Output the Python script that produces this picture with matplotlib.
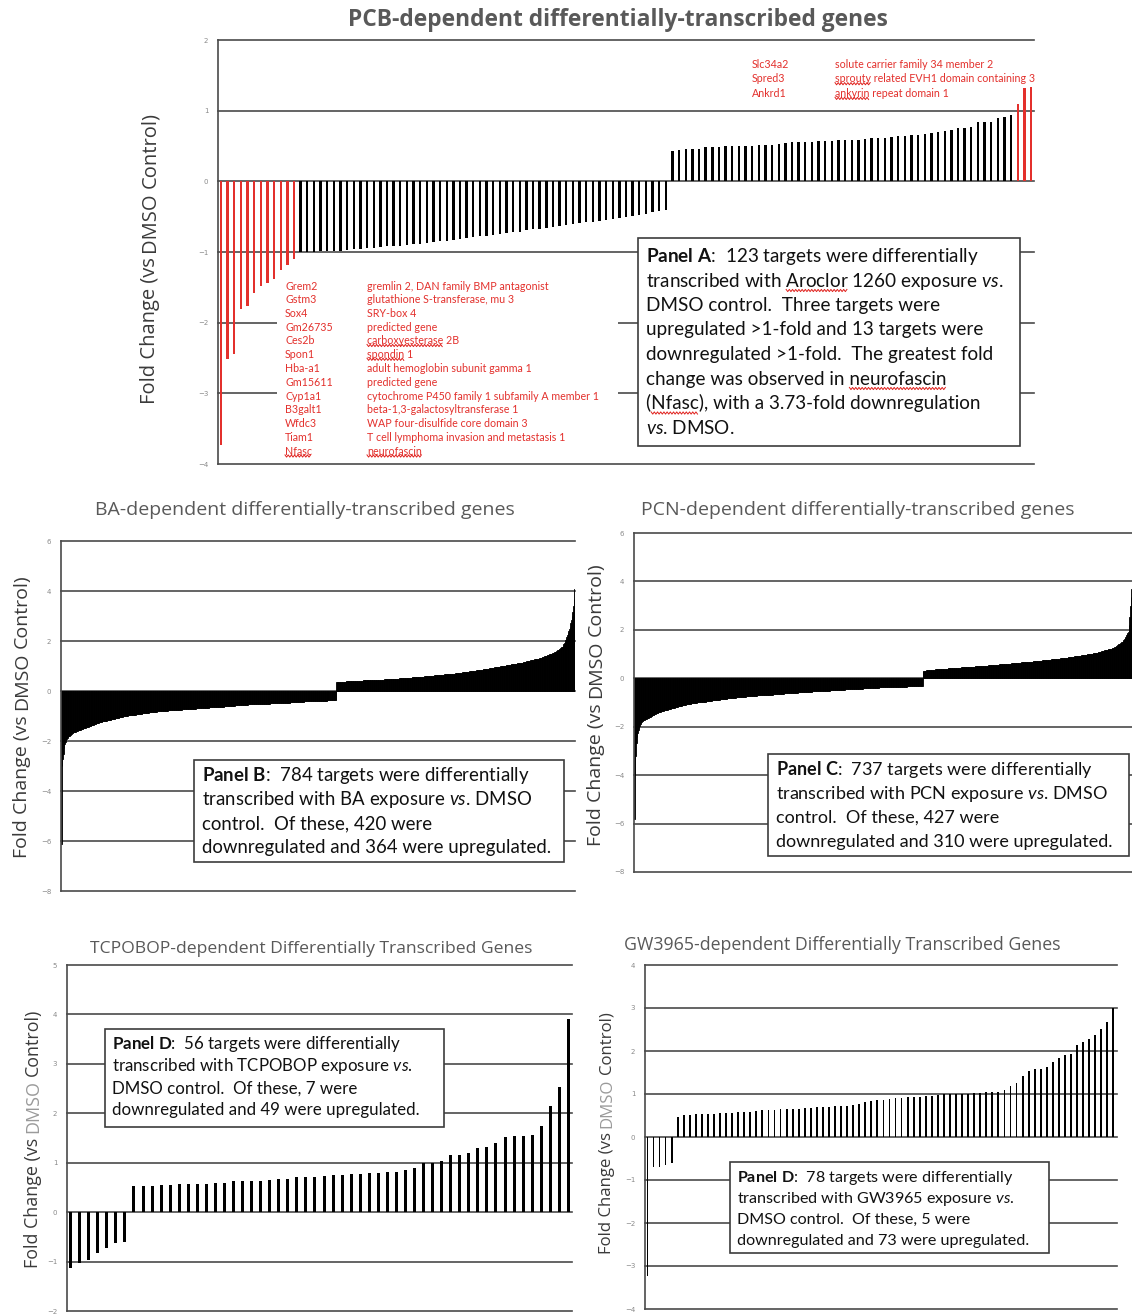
import numpy as np
import matplotlib
matplotlib.use('Agg')
import matplotlib.pyplot as plt
from matplotlib.patches import Rectangle
from matplotlib.lines import Line2D

W, H = 1132, 1314

plt.rcParams['mathtext.fontset'] = 'custom'
plt.rcParams['mathtext.rm'] = 'Lato'
plt.rcParams['mathtext.bf'] = 'Lato:bold'
plt.rcParams['mathtext.it'] = 'Lato:italic'

# ---------------- data (fold change, sorted as in the original figure) ----------------
pcb_fold = [
    -3.73, -2.51, -2.44, -1.80, -1.76, -1.58, -1.48, -1.44, -1.38, -1.26, -1.19, -1.10,
    -1.00, -1.00, -1.00, -0.99, -0.99, -0.98, -0.98, -0.97, -0.96, -0.96,
    -0.95, -0.94, -0.93, -0.92, -0.92, -0.91, -0.90, -0.89, -0.88, -0.87,
    -0.86, -0.85, -0.84, -0.83, -0.82, -0.80, -0.79, -0.78, -0.77, -0.76,
    -0.74, -0.73, -0.72, -0.71, -0.69, -0.68, -0.67, -0.66, -0.64, -0.63,
    -0.62, -0.61, -0.59, -0.58, -0.57, -0.56, -0.55, -0.53, -0.52, -0.51,
    -0.49, -0.48, -0.46, -0.44, -0.42, -0.40,
    0.43, 0.45, 0.46, 0.46, 0.46, 0.48, 0.48, 0.48, 0.50, 0.50,
    0.50, 0.50, 0.50, 0.51, 0.51, 0.52, 0.53, 0.54, 0.55, 0.55,
    0.56, 0.56, 0.57, 0.57, 0.57, 0.58, 0.59, 0.59, 0.59, 0.60,
    0.61, 0.62, 0.62, 0.63, 0.64, 0.64, 0.65, 0.66, 0.67, 0.68,
    0.70, 0.71, 0.73, 0.75, 0.76, 0.77, 0.84, 0.84, 0.84, 0.89, 0.91, 0.94,
    1.10, 1.32, 1.33,
]

ba_down = [
    -6.10, -3.00, -2.72, -2.50, -2.28, -2.10, -2.02, -1.95, -1.90, -1.86, -1.82, -1.80, -1.78, -1.76, -1.74, -1.72, -1.70, -1.69, -1.66, -1.65,
    -1.64, -1.63, -1.62, -1.61, -1.60, -1.58, -1.57, -1.56, -1.55, -1.54, -1.53, -1.52, -1.51, -1.50, -1.49, -1.48, -1.47, -1.46, -1.45, -1.44,
    -1.43, -1.42, -1.41, -1.40, -1.39, -1.38, -1.37, -1.36, -1.35, -1.34, -1.33, -1.32, -1.31, -1.30, -1.29, -1.28, -1.26, -1.26, -1.25, -1.24,
    -1.23, -1.23, -1.22, -1.21, -1.21, -1.20, -1.19, -1.19, -1.18, -1.18, -1.17, -1.16, -1.16, -1.15, -1.15, -1.14, -1.14, -1.13, -1.13, -1.12,
    -1.11, -1.10, -1.10, -1.09, -1.08, -1.08, -1.07, -1.06, -1.06, -1.05, -1.04, -1.04, -1.02, -1.02, -1.01, -1.01, -1.00, -1.00, -0.99, -0.99,
    -0.98, -0.98, -0.97, -0.97, -0.97, -0.96, -0.96, -0.96, -0.95, -0.95, -0.95, -0.94, -0.94, -0.94, -0.93, -0.93, -0.93, -0.92, -0.92, -0.91,
    -0.91, -0.91, -0.90, -0.90, -0.89, -0.89, -0.89, -0.88, -0.88, -0.87, -0.87, -0.87, -0.86, -0.86, -0.85, -0.85, -0.85, -0.84, -0.84, -0.84,
    -0.83, -0.83, -0.83, -0.82, -0.82, -0.82, -0.81, -0.81, -0.81, -0.81, -0.80, -0.80, -0.80, -0.80, -0.79, -0.79, -0.79, -0.79, -0.78, -0.78,
    -0.78, -0.78, -0.78, -0.77, -0.77, -0.77, -0.77, -0.77, -0.76, -0.76, -0.76, -0.76, -0.76, -0.75, -0.75, -0.75, -0.75, -0.75, -0.74, -0.74,
    -0.74, -0.74, -0.74, -0.74, -0.73, -0.73, -0.73, -0.73, -0.73, -0.73, -0.72, -0.72, -0.72, -0.72, -0.72, -0.71, -0.71, -0.71, -0.71, -0.71,
    -0.71, -0.70, -0.70, -0.70, -0.70, -0.70, -0.69, -0.69, -0.69, -0.69, -0.69, -0.68, -0.68, -0.68, -0.68, -0.68, -0.67, -0.67, -0.67, -0.67,
    -0.67, -0.66, -0.66, -0.66, -0.66, -0.66, -0.65, -0.65, -0.65, -0.65, -0.65, -0.65, -0.64, -0.64, -0.64, -0.64, -0.64, -0.64, -0.63, -0.63,
    -0.63, -0.63, -0.63, -0.63, -0.63, -0.62, -0.62, -0.62, -0.62, -0.61, -0.61, -0.61, -0.61, -0.60, -0.60, -0.60, -0.60, -0.59, -0.59, -0.59,
    -0.59, -0.58, -0.58, -0.58, -0.58, -0.57, -0.57, -0.57, -0.57, -0.56, -0.56, -0.56, -0.56, -0.55, -0.55, -0.55, -0.55, -0.55, -0.54, -0.54,
    -0.54, -0.54, -0.54, -0.54, -0.54, -0.53, -0.53, -0.53, -0.53, -0.53, -0.53, -0.53, -0.53, -0.53, -0.53, -0.53, -0.52, -0.52, -0.52, -0.52,
    -0.52, -0.52, -0.52, -0.52, -0.51, -0.51, -0.51, -0.51, -0.51, -0.51, -0.51, -0.50, -0.50, -0.50, -0.50, -0.50, -0.50, -0.50, -0.50, -0.49,
    -0.49, -0.49, -0.49, -0.49, -0.49, -0.49, -0.49, -0.48, -0.48, -0.48, -0.48, -0.48, -0.48, -0.48, -0.48, -0.48, -0.47, -0.47, -0.47, -0.47,
    -0.47, -0.47, -0.47, -0.47, -0.47, -0.46, -0.46, -0.46, -0.46, -0.46, -0.45, -0.45, -0.45, -0.45, -0.45, -0.44, -0.44, -0.44, -0.44, -0.44,
    -0.43, -0.43, -0.43, -0.43, -0.43, -0.42, -0.42, -0.42, -0.42, -0.42, -0.42, -0.41, -0.41, -0.41, -0.41, -0.41, -0.41, -0.40, -0.40, -0.40,
    -0.40, -0.40, -0.40, -0.40, -0.40, -0.40, -0.39, -0.39, -0.39, -0.39, -0.39, -0.39, -0.39, -0.39, -0.39, -0.39, -0.39, -0.39, -0.38, -0.38,
    -0.38, -0.38, -0.38, -0.38, -0.38, -0.38, -0.37, -0.37, -0.37, -0.37, -0.37, -0.37, -0.37, -0.37, -0.36, -0.36, -0.36, -0.36, -0.36, -0.36,
]

ba_up = [
    0.37, 0.37, 0.37, 0.37, 0.37, 0.37, 0.38, 0.38, 0.38, 0.38, 0.38, 0.38, 0.38, 0.38, 0.39, 0.39, 0.39, 0.39, 0.39, 0.39,
    0.39, 0.39, 0.40, 0.40, 0.40, 0.40, 0.40, 0.40, 0.40, 0.41, 0.41, 0.41, 0.41, 0.41, 0.42, 0.42, 0.42, 0.42, 0.42, 0.42,
    0.43, 0.43, 0.43, 0.43, 0.43, 0.43, 0.43, 0.44, 0.44, 0.44, 0.44, 0.44, 0.44, 0.44, 0.44, 0.45, 0.45, 0.45, 0.45, 0.45,
    0.45, 0.45, 0.45, 0.45, 0.46, 0.46, 0.46, 0.46, 0.46, 0.46, 0.46, 0.46, 0.46, 0.47, 0.47, 0.47, 0.47, 0.47, 0.47, 0.47,
    0.47, 0.48, 0.48, 0.48, 0.48, 0.48, 0.49, 0.49, 0.49, 0.49, 0.49, 0.50, 0.50, 0.50, 0.50, 0.50, 0.51, 0.51, 0.51, 0.51,
    0.51, 0.52, 0.52, 0.52, 0.52, 0.52, 0.53, 0.53, 0.53, 0.53, 0.54, 0.54, 0.54, 0.54, 0.54, 0.55, 0.55, 0.55, 0.55, 0.55,
    0.55, 0.56, 0.56, 0.56, 0.56, 0.56, 0.57, 0.57, 0.57, 0.57, 0.58, 0.58, 0.58, 0.58, 0.59, 0.59, 0.59, 0.59, 0.60, 0.60,
    0.60, 0.60, 0.61, 0.61, 0.61, 0.61, 0.62, 0.62, 0.62, 0.63, 0.63, 0.63, 0.63, 0.64, 0.64, 0.64, 0.65, 0.65, 0.65, 0.65,
    0.66, 0.66, 0.66, 0.66, 0.67, 0.67, 0.67, 0.67, 0.68, 0.68, 0.68, 0.68, 0.69, 0.69, 0.69, 0.69, 0.69, 0.70, 0.70, 0.70,
    0.70, 0.71, 0.71, 0.71, 0.72, 0.72, 0.73, 0.73, 0.73, 0.74, 0.74, 0.74, 0.75, 0.75, 0.76, 0.76, 0.76, 0.77, 0.77, 0.77,
    0.78, 0.78, 0.78, 0.79, 0.79, 0.80, 0.80, 0.80, 0.81, 0.81, 0.82, 0.82, 0.82, 0.83, 0.83, 0.84, 0.84, 0.84, 0.85, 0.85,
    0.86, 0.86, 0.86, 0.87, 0.87, 0.88, 0.88, 0.88, 0.89, 0.89, 0.90, 0.90, 0.90, 0.91, 0.91, 0.92, 0.92, 0.93, 0.93, 0.94,
    0.94, 0.95, 0.95, 0.95, 0.96, 0.96, 0.97, 0.97, 0.98, 0.98, 0.99, 0.99, 1.00, 1.00, 1.01, 1.01, 1.02, 1.02, 1.03, 1.03,
    1.04, 1.04, 1.05, 1.05, 1.06, 1.06, 1.07, 1.07, 1.08, 1.08, 1.09, 1.09, 1.10, 1.10, 1.10, 1.11, 1.11, 1.12, 1.12, 1.12,
    1.13, 1.13, 1.13, 1.14, 1.15, 1.15, 1.16, 1.17, 1.17, 1.18, 1.19, 1.19, 1.20, 1.21, 1.21, 1.22, 1.23, 1.23, 1.24, 1.25,
    1.25, 1.26, 1.27, 1.27, 1.28, 1.28, 1.29, 1.29, 1.30, 1.31, 1.32, 1.33, 1.34, 1.35, 1.36, 1.37, 1.38, 1.39, 1.40, 1.41,
    1.42, 1.43, 1.44, 1.45, 1.46, 1.47, 1.48, 1.49, 1.50, 1.51, 1.53, 1.54, 1.55, 1.57, 1.58, 1.60, 1.62, 1.64, 1.66, 1.68,
    1.70, 1.72, 1.74, 1.76, 1.77, 1.82, 1.87, 1.92, 1.97, 2.03, 2.10, 2.18, 2.25, 2.33, 2.41, 2.49, 2.57, 2.72, 2.86, 3.01,
    3.16, 3.40, 3.70, 4.10,
]

pcn_down = [
    -5.80, -4.00, -3.20, -2.66, -2.42, -2.25, -2.12, -2.04, -1.97, -1.90, -1.85, -1.81, -1.78, -1.76, -1.74, -1.72, -1.70, -1.69, -1.67, -1.66,
    -1.65, -1.63, -1.61, -1.60, -1.58, -1.56, -1.55, -1.53, -1.51, -1.50, -1.48, -1.47, -1.45, -1.44, -1.43, -1.42, -1.41, -1.40, -1.39, -1.38,
    -1.37, -1.36, -1.35, -1.34, -1.33, -1.33, -1.32, -1.31, -1.30, -1.29, -1.28, -1.27, -1.27, -1.26, -1.25, -1.24, -1.23, -1.22, -1.22, -1.21,
    -1.20, -1.19, -1.19, -1.18, -1.17, -1.16, -1.16, -1.15, -1.14, -1.14, -1.13, -1.12, -1.12, -1.11, -1.10, -1.10, -1.09, -1.08, -1.08, -1.07,
    -1.07, -1.06, -1.06, -1.05, -1.05, -1.04, -1.04, -1.03, -1.03, -1.02, -1.02, -1.01, -1.01, -1.00, -1.00, -1.00, -0.99, -0.99, -0.99, -0.98,
    -0.98, -0.98, -0.97, -0.97, -0.96, -0.96, -0.96, -0.95, -0.95, -0.94, -0.94, -0.93, -0.93, -0.92, -0.92, -0.91, -0.91, -0.91, -0.90, -0.90,
    -0.90, -0.89, -0.89, -0.89, -0.88, -0.88, -0.88, -0.87, -0.87, -0.87, -0.86, -0.86, -0.86, -0.85, -0.85, -0.84, -0.84, -0.84, -0.83, -0.83,
    -0.83, -0.82, -0.82, -0.82, -0.81, -0.81, -0.81, -0.80, -0.80, -0.80, -0.80, -0.79, -0.79, -0.79, -0.79, -0.78, -0.78, -0.78, -0.78, -0.77,
    -0.77, -0.77, -0.76, -0.76, -0.76, -0.76, -0.75, -0.75, -0.75, -0.75, -0.74, -0.74, -0.74, -0.73, -0.73, -0.73, -0.73, -0.72, -0.72, -0.72,
    -0.72, -0.72, -0.71, -0.71, -0.71, -0.71, -0.71, -0.70, -0.70, -0.70, -0.70, -0.70, -0.69, -0.69, -0.69, -0.69, -0.68, -0.68, -0.68, -0.68,
    -0.68, -0.67, -0.67, -0.67, -0.67, -0.66, -0.66, -0.66, -0.66, -0.65, -0.65, -0.65, -0.65, -0.64, -0.64, -0.64, -0.64, -0.63, -0.63, -0.63,
    -0.63, -0.63, -0.62, -0.62, -0.62, -0.62, -0.61, -0.61, -0.61, -0.61, -0.61, -0.60, -0.60, -0.60, -0.60, -0.60, -0.59, -0.59, -0.59, -0.59,
    -0.59, -0.59, -0.58, -0.58, -0.58, -0.58, -0.58, -0.57, -0.57, -0.57, -0.57, -0.57, -0.56, -0.56, -0.56, -0.56, -0.56, -0.56, -0.55, -0.55,
    -0.55, -0.55, -0.55, -0.55, -0.54, -0.54, -0.54, -0.54, -0.54, -0.53, -0.53, -0.53, -0.53, -0.53, -0.53, -0.52, -0.52, -0.52, -0.52, -0.52,
    -0.52, -0.52, -0.51, -0.51, -0.51, -0.51, -0.51, -0.51, -0.51, -0.51, -0.50, -0.50, -0.50, -0.50, -0.50, -0.49, -0.49, -0.49, -0.49, -0.49,
    -0.49, -0.48, -0.48, -0.48, -0.48, -0.48, -0.47, -0.47, -0.47, -0.47, -0.47, -0.47, -0.46, -0.46, -0.46, -0.46, -0.46, -0.45, -0.45, -0.45,
    -0.45, -0.45, -0.45, -0.44, -0.44, -0.44, -0.44, -0.44, -0.44, -0.44, -0.43, -0.43, -0.43, -0.43, -0.43, -0.43, -0.43, -0.43, -0.43, -0.42,
    -0.42, -0.42, -0.42, -0.42, -0.42, -0.41, -0.41, -0.41, -0.41, -0.41, -0.41, -0.40, -0.40, -0.40, -0.40, -0.40, -0.40, -0.39, -0.39, -0.39,
    -0.39, -0.39, -0.39, -0.38, -0.38, -0.38, -0.38, -0.38, -0.38, -0.37, -0.37, -0.37, -0.37, -0.37, -0.37, -0.37, -0.37, -0.36, -0.36, -0.36,
    -0.36, -0.36, -0.36, -0.36, -0.36, -0.36, -0.36, -0.36, -0.35, -0.35, -0.35, -0.35, -0.35, -0.35, -0.35, -0.35, -0.34, -0.34, -0.34, -0.34,
    -0.34, -0.34, -0.34, -0.34, -0.33, -0.33, -0.33, -0.33, -0.33, -0.33, -0.33, -0.33, -0.32, -0.32, -0.32, -0.32, -0.32, -0.32, -0.32, -0.32,
    -0.31, -0.31, -0.31, -0.31, -0.31, -0.31, -0.31,
]

pcn_up = [
    0.31, 0.31, 0.32, 0.32, 0.32, 0.33, 0.33, 0.33, 0.34, 0.34, 0.34, 0.35, 0.35, 0.35, 0.35, 0.36, 0.36, 0.36, 0.36, 0.37,
    0.37, 0.37, 0.37, 0.37, 0.38, 0.38, 0.38, 0.38, 0.39, 0.39, 0.39, 0.39, 0.40, 0.40, 0.40, 0.40, 0.40, 0.41, 0.41, 0.41,
    0.41, 0.41, 0.42, 0.42, 0.42, 0.42, 0.42, 0.43, 0.43, 0.43, 0.43, 0.43, 0.44, 0.44, 0.44, 0.44, 0.44, 0.45, 0.45, 0.45,
    0.45, 0.45, 0.46, 0.46, 0.46, 0.46, 0.46, 0.47, 0.47, 0.47, 0.47, 0.47, 0.48, 0.48, 0.48, 0.48, 0.48, 0.49, 0.49, 0.49,
    0.49, 0.49, 0.50, 0.50, 0.50, 0.50, 0.50, 0.51, 0.51, 0.51, 0.51, 0.51, 0.52, 0.52, 0.52, 0.52, 0.52, 0.53, 0.53, 0.53,
    0.53, 0.53, 0.54, 0.54, 0.54, 0.54, 0.54, 0.55, 0.55, 0.55, 0.56, 0.56, 0.56, 0.57, 0.57, 0.57, 0.57, 0.58, 0.58, 0.58,
    0.58, 0.59, 0.59, 0.59, 0.60, 0.60, 0.60, 0.60, 0.61, 0.61, 0.61, 0.62, 0.62, 0.62, 0.62, 0.63, 0.63, 0.63, 0.63, 0.64,
    0.64, 0.64, 0.65, 0.65, 0.65, 0.65, 0.66, 0.66, 0.66, 0.66, 0.67, 0.67, 0.67, 0.67, 0.67, 0.68, 0.68, 0.68, 0.68, 0.68,
    0.69, 0.69, 0.69, 0.70, 0.70, 0.70, 0.71, 0.71, 0.71, 0.71, 0.72, 0.72, 0.72, 0.73, 0.73, 0.73, 0.73, 0.74, 0.74, 0.74,
    0.75, 0.75, 0.75, 0.76, 0.76, 0.76, 0.76, 0.77, 0.77, 0.77, 0.78, 0.78, 0.78, 0.78, 0.79, 0.79, 0.79, 0.80, 0.80, 0.80,
    0.80, 0.81, 0.81, 0.81, 0.82, 0.82, 0.82, 0.82, 0.82, 0.83, 0.83, 0.84, 0.84, 0.85, 0.85, 0.86, 0.86, 0.86, 0.87, 0.87,
    0.88, 0.88, 0.89, 0.89, 0.90, 0.90, 0.91, 0.91, 0.92, 0.92, 0.93, 0.93, 0.93, 0.94, 0.94, 0.95, 0.95, 0.96, 0.96, 0.97,
    0.97, 0.98, 0.98, 0.99, 0.99, 1.00, 1.00, 1.00, 1.01, 1.01, 1.02, 1.02, 1.03, 1.03, 1.04, 1.04, 1.05, 1.05, 1.06, 1.07,
    1.08, 1.09, 1.09, 1.10, 1.11, 1.12, 1.13, 1.13, 1.14, 1.15, 1.16, 1.17, 1.17, 1.18, 1.19, 1.20, 1.21, 1.21, 1.22, 1.23,
    1.24, 1.25, 1.26, 1.27, 1.29, 1.30, 1.32, 1.34, 1.36, 1.38, 1.40, 1.42, 1.44, 1.46, 1.48, 1.51, 1.53, 1.57, 1.62, 1.67,
    1.72, 1.77, 1.82, 1.87, 1.93, 2.20, 2.55, 3.00, 3.35, 3.70,
]

tcpobop_fold = [
    -1.12, -1.02, -0.97, -0.82, -0.72, -0.62, -0.61,
    0.52, 0.52, 0.53, 0.55, 0.55, 0.57, 0.57, 0.57, 0.57, 0.59,
    0.59, 0.63, 0.64, 0.64, 0.64, 0.66, 0.68, 0.68, 0.71, 0.71,
    0.71, 0.73, 0.75, 0.76, 0.77, 0.77, 0.79, 0.79, 0.82, 0.82,
    0.86, 0.90, 1.00, 1.00, 1.03, 1.16, 1.16, 1.20, 1.30, 1.31,
    1.40, 1.52, 1.54, 1.55, 1.57, 1.75, 2.15, 2.53, 3.90,
]

gw3965_fold = [
    -3.24, -0.70, -0.70, -0.66, -0.60,
    0.47, 0.52, 0.52, 0.54, 0.54, 0.54, 0.54, 0.56, 0.56, 0.56,
    0.59, 0.59, 0.59, 0.60, 0.62, 0.63, 0.63, 0.65, 0.65, 0.65,
    0.66, 0.67, 0.67, 0.70, 0.70, 0.70, 0.72, 0.72, 0.72, 0.74,
    0.76, 0.81, 0.84, 0.85, 0.85, 0.89, 0.91, 0.91, 0.92, 0.92,
    0.93, 0.95, 0.96, 0.98, 0.99, 0.99, 1.00, 1.00, 1.01, 1.02,
    1.03, 1.04, 1.05, 1.05, 1.09, 1.18, 1.26, 1.41, 1.53, 1.58,
    1.58, 1.63, 1.74, 1.84, 1.90, 1.94, 2.13, 2.21, 2.27, 2.38,
    2.52, 2.67, 3.00,
]

pcb_down_genes = ["Grem2", "Gstm3", "Sox4", "Gm26735", "Ces2b", "Spon1", "Hba-a1",
                  "Gm15611", "Cyp1a1", "B3galt1", "Wfdc3", "Tiam1", "Nfasc"]
pcb_down_names = ["gremlin 2, DAN family BMP antagonist", "glutathione S-transferase, mu 3",
                  "SRY-box 4", "predicted gene", "carboxyesterase 2B", "spondin 1",
                  "adult hemoglobin subunit gamma 1", "predicted gene",
                  "cytochrome P450 family 1 subfamily A member 1",
                  "beta-1,3-galactosyltransferase 1", "WAP four-disulfide core domain 3",
                  "T cell lymphoma invasion and metastasis 1", "neurofascin"]
pcb_up_genes = ["Slc34a2", "Spred3", "Ankrd1"]
pcb_up_names = ["solute carrier family 34 member 2",
                "sprouty related EVH1 domain containing 3", "ankyrin repeat domain 1"]

RED = '#e3302c'
GRID = '#4a4a4a'
TITLE = '#595959'
LABEL = '#3a3a3a'

fig = plt.figure(figsize=(W / 100, H / 100), dpi=100)
renderer = fig.canvas.get_renderer()


def fx(x):
    return x / W


def fy(y):
    return 1 - y / H


def text_width(s, **kw):
    t = fig.text(0, 0.5, s, **kw)
    bb = t.get_window_extent(renderer)
    t.remove()
    return bb.width


def squiggle(x, y, prefix, word, **kw):
    # red wavy spell-check underline below `word`, which ends `prefix` (text starts at x)
    x1 = x + text_width(prefix, **kw)
    x0 = x1 - text_width(word, **kw)
    xs = np.arange(x0, x1 + 0.1, 1.6)
    ys = y + np.where(np.arange(len(xs)) % 2 == 0, -1.1, 1.1)
    fig.add_artist(Line2D(fx(xs), fy(ys), transform=fig.transFigure,
                          color='#e0201c', lw=0.7, zorder=7))


def panel(rect, values, ylim, step, bar_w, xlim, colors=None):
    l, t, r, b = rect
    ax = fig.add_axes([fx(l), fy(b), (r - l) / W, (b - t) / H])
    ax.set_xlim(*xlim)
    ax.set_ylim(*ylim)
    ticks = list(range(ylim[0], ylim[1] + 1, step))
    for v in ticks:
        ax.axhline(v, color=GRID, lw=1.2, zorder=0, clip_on=False)
    ax.set_yticks(ticks)
    ax.set_xticks([])
    for s in ['top', 'right', 'bottom']:
        ax.spines[s].set_visible(False)
    ax.spines['left'].set_color(GRID)
    ax.spines['left'].set_linewidth(1.2)
    ax.tick_params(axis='y', length=0, labelsize=5, labelcolor='#8a8a8a', pad=7)
    ax.patch.set_alpha(0)
    if colors is None:
        colors = 'black'
    lw = 0.6 if bar_w >= 1 else 0
    ax.bar(range(len(values)), values, width=bar_w, color=colors,
           edgecolor=colors if lw else 'none', linewidth=lw, zorder=2)
    return ax


def box(l, t, r, b, edge=True):
    fig.patches.append(Rectangle((fx(l), fy(b)), (r - l) / W, (b - t) / H,
                                 transform=fig.transFigure, facecolor='white',
                                 edgecolor='#3c3c3c' if edge else 'none',
                                 lw=1.2, zorder=5))


def box_text(x, y0, dy, lines, size):
    for i, line in enumerate(lines):
        fig.text(fx(x), fy(y0 + i * dy), line, fontsize=size, family='Lato',
                 color='#111111', ha='left', va='baseline', zorder=6)


def ylabel(x, y_mid, size, dmso_color=LABEL):
    # vertical label; "DMSO" may be drawn in a lighter grey as in the lower panels
    kw = dict(fontsize=size, family='Open Sans')
    full = "Fold Change (vs DMSO Control)"
    total = text_width(full, **kw)
    y0 = y_mid + total / 2
    parts = [("Fold Change (vs", "Fold Change (vs", LABEL),
             ("Fold Change (vs DMSO", "DMSO", dmso_color),
             (full, "Control)", LABEL)]
    for prefix, seg, col in parts:
        off = text_width(prefix, **kw) - text_width(seg, **kw)
        fig.text(fx(x), fy(y0 - off), seg, rotation=90, rotation_mode='anchor',
                 ha='left', va='center', color=col, **kw)


# ---------------- Panel A ----------------
pcb_colors = [RED if abs(v) > 1.0 else 'black' for v in pcb_fold]
panel((218, 40, 1034, 464), pcb_fold, (-4, 2), 1, 0.36, (-0.45, len(pcb_fold) - 0.55), pcb_colors)
fig.text(fx(618), fy(20), "PCB-dependent differentially-transcribed genes", ha='center', va='center',
         fontsize=16.4, fontweight='bold', family='Open Sans', color=TITLE)
ylabel(150, 258, 14.5)

box(277, 275, 618, 461, edge=False)
gkw = dict(fontsize=7.7, family='Lato')
for i, (g, n) in enumerate(zip(pcb_down_genes, pcb_down_names)):
    y = 286 + i * 13.75
    fig.text(fx(285), fy(y), g, color=RED, va='center', zorder=6, **gkw)
    fig.text(fx(367), fy(y), n, color=RED, va='center', zorder=6, **gkw)
squiggle(367, 340.5 + 5, "carboxyesterase", "carboxyesterase", **gkw)
squiggle(367, 354.3 + 5, "spondin", "spondin", **gkw)
squiggle(285, 451 + 5, "Nfasc", "Nfasc", **gkw)
squiggle(367, 451 + 5, "neurofascin", "neurofascin", **gkw)
for i, (g, n) in enumerate(zip(pcb_up_genes, pcb_up_names)):
    y = 64 + i * 14.7
    fig.text(fx(752), fy(y), g, color=RED, va='center', zorder=6, **gkw)
    fig.text(fx(835), fy(y), n, color=RED, va='center', zorder=6, **gkw)
squiggle(835, 78.7 + 5, "sprouty", "sprouty", **gkw)
squiggle(835, 93.4 + 5, "ankyrin", "ankyrin", **gkw)

box(638, 238, 1020, 446)
akw = dict(fontsize=13.6, family='Lato')
box_text(646, 262, 24.5, [
    r"$\mathbf{Panel\ A}$:  123 targets were differentially",
    r"transcribed with Aroclor 1260 exposure $\mathit{vs}$.",
    "DMSO control.  Three targets were",
    "upregulated >1-fold and 13 targets were",
    "downregulated >1-fold.  The greatest fold",
    "change was observed in neurofascin",
    "(Nfasc), with a 3.73-fold downregulation",
    r"$\mathit{vs}$. DMSO.",
], 13.6)
squiggle(646, 262 + 24.5 + 4, "transcribed with Aroclor", "Aroclor", **akw)
squiggle(646, 262 + 5 * 24.5 + 4, "change was observed in neurofascin", "neurofascin", **akw)
squiggle(646, 262 + 6 * 24.5 + 4, "(Nfasc", "Nfasc", **akw)

# ---------------- Panel B ----------------
ba_fold = ba_down + ba_up
panel((61, 541, 575, 891), ba_fold, (-8, 6), 2, 1.0, (-0.5, len(ba_fold) - 0.5))
fig.text(fx(305), fy(510), "BA-dependent differentially-transcribed genes", ha='center', va='center',
         fontsize=14, family='Open Sans', color=TITLE)
ylabel(22, 716, 14)
box(194, 760, 564, 862)
box_text(202, 781, 24, [
    r"$\mathbf{Panel\ B}$:  784 targets were differentially",
    r"transcribed with BA exposure $\mathit{vs}$. DMSO",
    "control.  Of these, 420 were",
    "downregulated and 364 were upregulated.",
], 13.4)

# ---------------- Panel C ----------------
pcn_fold = pcn_down + pcn_up
panel((634, 533, 1132, 872), pcn_fold, (-8, 6), 2, 1.0, (-0.5, len(pcn_fold) - 0.5))
fig.text(fx(858), fy(510), "PCN-dependent differentially-transcribed genes", ha='center', va='center',
         fontsize=14, family='Open Sans', color=TITLE)
ylabel(596, 704, 14)
box(768, 754, 1129, 856)
box_text(776, 775, 24, [
    r"$\mathbf{Panel\ C}$:  737 targets were differentially",
    r"transcribed with PCN exposure $\mathit{vs}$. DMSO",
    "control.  Of these, 427 were",
    "downregulated and 310 were upregulated.",
], 13.0)

# ---------------- Panel D (TCPOBOP) ----------------
panel((67, 965, 572, 1311), tcpobop_fold, (-2, 5), 1, 0.33, (-0.4, len(tcpobop_fold) - 0.6))
fig.text(fx(311), fy(949), "TCPOBOP-dependent Differentially Transcribed Genes", ha='center', va='center',
         fontsize=12.6, family='Open Sans', color=TITLE)
ylabel(33, 1138, 12.9, dmso_color='#9a9a9a')
box(105, 1029, 444, 1127)
box_text(112, 1049.5, 22, [
    r"$\mathbf{Panel\ D}$:  56 targets were differentially",
    r"transcribed with TCPOBOP exposure $\mathit{vs}$.",
    "DMSO control.  Of these, 7 were",
    "downregulated and 49 were upregulated.",
], 12.2)

# ---------------- Panel E (GW3965) ----------------
panel((645, 965, 1117, 1309), gw3965_fold, (-4, 4), 1, 0.3, (-0.4, len(gw3965_fold) - 0.4))
fig.text(fx(842), fy(945), "GW3965-dependent Differentially Transcribed Genes", ha='center', va='center',
         fontsize=12.8, family='Open Sans', color=TITLE)
ylabel(607, 1133, 12.1, dmso_color='#9a9a9a')
box(730, 1162, 1049, 1253)
box_text(737, 1182, 21, [
    r"$\mathbf{Panel\ D}$:  78 targets were differentially",
    r"transcribed with GW3965 exposure $\mathit{vs}$.",
    "DMSO control.  Of these, 5 were",
    "downregulated and 73 were upregulated.",
], 11.6)

fig.savefig('out.png', dpi=100)
